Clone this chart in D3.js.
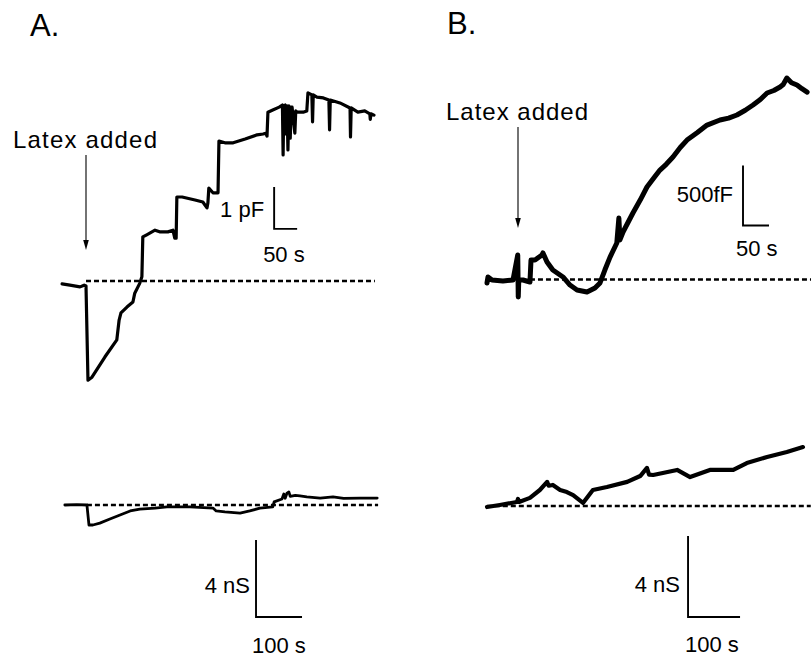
<!DOCTYPE html>
<html><head><meta charset="utf-8">
<script src="https://cdn.jsdelivr.net/npm/d3@7"></script>
<style>
html,body{margin:0;padding:0;background:#fff;}
svg{display:block;}
text{font-family:"Liberation Sans",Arial,Helvetica,sans-serif;fill:#000;}
</style></head>
<body>
<svg id="fig" width="811" height="657"></svg>
<script>
// ---- Data (time in s relative to latex addition) ----
// Panel A: capacitance (pF)
const capA = [[-52,-0.07],[-35,-0.10],[-13,-0.14],[-4,-0.10],[0,-0.12],[4.3,-2.36],[13,-2.29],[41,-1.81],[67,-1.40],[72,-0.93],[76,-0.76],[89,-0.62],[102,-0.50],[106,-0.29],[117,-0.05],[121.5,0.10],[123.5,1.05],[132,1.10],[150,1.21],[160,1.17],[178,1.17],[189,1.21],[193,1.02],[196,1.02],[197.5,2.00],[209,2.00],[237,1.93],[254,1.88],[263,1.74],[265,1.86],[267,2.21],[276,2.10],[287,2.10],[289,3.33],[302,3.29],[320,3.29],[346,3.38],[372,3.48],[385,3.50],[391,3.52],[393.5,3.45],[395.5,4.02],[406,4.07],[420,4.14],[427,4.19],[428.5,3.0],[430,4.17],[433,4.19],[435,3.5],[437,4.17],[439,3.12],[441,4.17],[444,3.4],[446,4.14],[448,4.14],[454,3.52],[456,4.05],[459,4.02],[472,4.02],[480,4.05],[482.5,4.48],[491,4.43],[492.5,3.79],[494,4.43],[502,4.38],[516,4.36],[528,4.31],[529.5,3.60],[531,4.31],[552,4.24],[574,4.12],[575,3.43],[576.5,4.12],[591,4.02],[606,4.05],[617,3.98],[618,3.85],[619.5,3.98],[626,3.95]];
// Panel A: conductance (nS)
const condA = [[-46,0.0],[-20,0.02],[2,0.0],[6.5,-1.04],[15,-1.04],[30,-0.94],[52,-0.73],[74,-0.52],[96,-0.31],[117,-0.21],[150,-0.16],[176,-0.10],[226,-0.10],[276,-0.16],[283,-0.31],[302,-0.36],[335,-0.42],[356,-0.31],[378,-0.16],[406,-0.10],[409,0.16],[426,0.31],[430,0.57],[433,0.35],[437,0.62],[441,0.68],[444,0.45],[455,0.50],[465,0.47],[480,0.42],[509,0.36],[537,0.42],[560,0.34],[596,0.36],[633,0.36]];
// Panel B: capacitance (fF)
const capB = [[-59.6,-29],[-57.7,21],[-50,-4],[-29,-12],[-9.6,-4],[-0.5,204],[0.5,-146],[1.5,-4],[9.6,-4],[23,-21],[25,162],[32.7,162],[46,204],[48,221],[55.8,146],[67,79],[86.5,21],[100,-46],[113.5,-87],[132.7,-104],[148,-71],[157.7,-29],[167,79],[177,187],[190,304],[194,512],[196,330],[202,396],[221,554],[235,662],[248,771],[260,840],[273,912],[285,960],[298,1021],[312,1100],[325,1162],[345,1225],[363.5,1287],[388.5,1329],[405,1345],[421,1371],[437,1410],[452,1454],[466,1500],[479,1554],[492,1575],[504,1604],[510,1625],[517,1679],[526,1640],[536.5,1621],[546,1590],[556,1562]];
// Panel B: conductance (nS)
const condB = [[-59.6,-0.05],[-35,0.05],[-2,0.2],[0,0.35],[2,0.2],[23,0.4],[42,0.79],[56,1.19],[59,1.0],[67,1.04],[81,0.79],[94,0.69],[106,0.54],[125,0.15],[144,0.79],[171,0.94],[210,1.19],[235,1.48],[248,1.88],[252,1.55],[260,1.53],[306,1.78],[331,1.43],[369,1.78],[414,1.78],[440,2.12],[479,2.42],[517,2.67],[548,2.91]];
// baselines [tStart, tEnd]
const baseCapA = [0, 628], baseCondA = [2, 635], baseCapB = [23, 565], baseCondB = [-60, 563];
// scale bars: [t, value at corner, vertical size, horizontal size]
const barCapA = [409, 1.24, 1, 50], barCondA = [369.6, -5.82, 4, 100];
const barCapB = [432.7, 450, 500, 50], barCondB = [327, -5.48, 4, 100];
const barLabels = {capA:["1 pF","50 s"], condA:["4 nS","100 s"], capB:["500fF","50 s"], condB:["4 nS","100 s"]};
// arrows: [t, value top, value tip]
const arrowA = [0, 3.0, 0.74], arrowB = [0, 1271, 429];
const panelLabels = ["A.", "B."];
const annotation = "Latex added";

// ---- Scales ----
const xA = d3.scaleLinear().domain([0,100]).range([86,132]);
const yCapA = d3.scaleLinear().domain([0,1]).range([281,239]);
const yCondA = d3.scaleLinear().domain([0,4]).range([505,428]);
const xB = d3.scaleLinear().domain([0,100]).range([518,570]);
const yCapB = d3.scaleLinear().domain([0,500]).range([279.5,219.5]);
const yCondB = d3.scaleLinear().domain([0,4]).range([506,425]);

const svg = d3.select("#fig");

function trace(data, x, y, w){
  svg.append("path").datum(data)
    .attr("d", d3.line().x(d=>x(d[0])).y(d=>y(d[1])))
    .attr("fill","none").attr("stroke","#000").attr("stroke-width",w)
    .attr("stroke-linejoin","round").attr("stroke-linecap","round");
}
function baseline(b, x, y){
  svg.append("line").attr("x1",x(b[0])).attr("x2",x(b[1]))
    .attr("y1",y(0)).attr("y2",y(0))
    .attr("stroke","#000").attr("stroke-width",2.3).attr("stroke-dasharray","5,3");
}
function scalebar(b, x, y, labels, opts){
  const cx = x(b[0]), cy = y(b[1]);
  const ty = y(b[1]+b[2]);
  const rx = x(b[0]+b[3]);
  svg.append("path").attr("d",`M${cx},${ty}V${cy}H${rx}`)
    .attr("fill","none").attr("stroke","#000").attr("stroke-width",1.9);
  svg.append("text").attr("x",cx-opts.vgap).attr("y",opts.vy).attr("text-anchor","end")
    .attr("font-size",22).text(labels[0]);
  svg.append("text").attr("x",cx+opts.hdx).attr("y",cy+opts.hdy)
    .attr("font-size",22).text(labels[1]);
}
function arrow(a, x, y){
  const ax = x(a[0]), y1 = y(a[1]), y2 = y(a[2]);
  svg.append("line").attr("x1",ax).attr("x2",ax).attr("y1",y1).attr("y2",y2-6)
    .attr("stroke","#000").attr("stroke-width",1.1);
  svg.append("path").attr("d",`M${ax-2.8},${y2-10}L${ax+2.8},${y2-10}L${ax},${y2}Z`).attr("fill","#000");
}

// Panel A
baseline(baseCapA, xA, yCapA);
baseline(baseCondA, xA, yCondA);
trace(capA, xA, yCapA, 3.2);
trace(condA, xA, yCondA, 2.8);
scalebar(barCapA, xA, yCapA, barLabels.capA, {vgap:10, vy:217, hdx:-11, hdy:33});
scalebar(barCondA, xA, yCondA, barLabels.condA, {vgap:6, vy:593, hdx:-4, hdy:36});
arrow(arrowA, xA, yCapA);

// Panel B
baseline(baseCapB, xB, yCapB);
baseline(baseCondB, xB, yCondB);
trace(capB, xB, yCapB, 5);
trace(condB, xB, yCondB, 4.2);
scalebar(barCapB, xB, yCapB, barLabels.capB, {vgap:10, vy:202, hdx:-7, hdy:30});
scalebar(barCondB, xB, yCondB, barLabels.condB, {vgap:8, vy:592, hdx:-3, hdy:35});
arrow(arrowB, xB, yCapB);

// Text annotations
svg.append("text").attr("x",30).attr("y",36).attr("font-size",31).text(panelLabels[0]);
svg.append("text").attr("x",447).attr("y",34).attr("font-size",31).text(panelLabels[1]);
svg.append("text").attr("x",13).attr("y",148).attr("font-size",24)
  .attr("textLength",144).attr("lengthAdjust","spacing").text(annotation);
svg.append("text").attr("x",446).attr("y",120).attr("font-size",24)
  .attr("textLength",142).attr("lengthAdjust","spacing").text(annotation);
</script>
</body></html>
